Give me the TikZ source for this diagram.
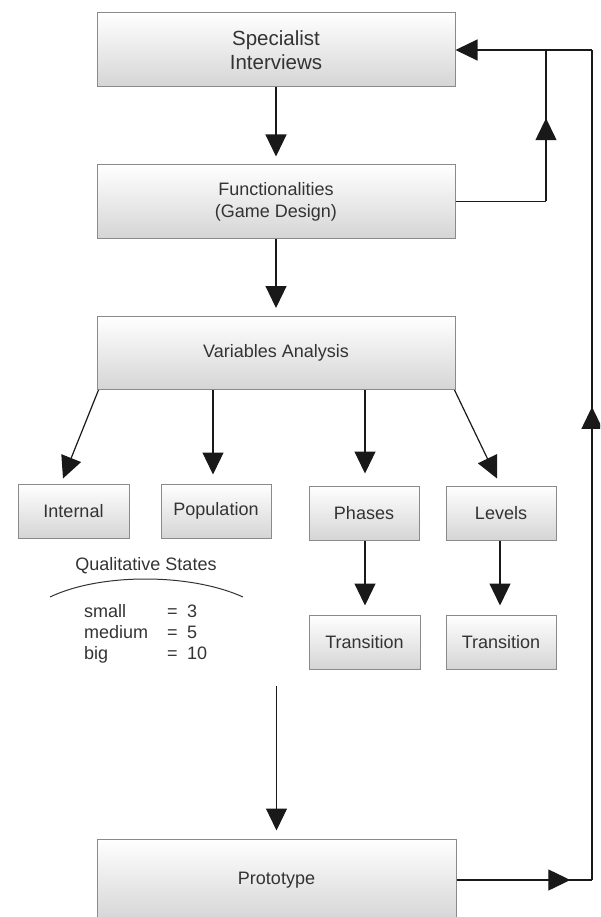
\documentclass[tikz,border=0pt]{standalone}
\usepackage{fontspec}
\setmainfont{Liberation Sans}
\usetikzlibrary{arrows.meta,decorations.markings,calc}
\definecolor{txt}{HTML}{333333}
\definecolor{boxline}{HTML}{8A8A8A}
\begin{document}
\begin{tikzpicture}[x=1pt,y=-1pt,
  box/.style={draw=boxline, line width=1pt, top color=white, bottom color=gray!33,
    inner sep=0pt, text=txt, font=\fontsize{18}{22}\selectfont, align=center},
  bigbox/.style={box, minimum width=358pt, minimum height=73pt},
  smallbox/.style={box, minimum width=110pt, minimum height=54pt},
  conn/.style={line width=1.2pt, draw=black!90},
  arrn/.style={conn, -{Triangle[length=22pt,width=21pt]}},
  midarrow/.style={postaction={decorate}, decoration={markings,
    mark=at position #1 with {\arrow{Triangle[length=22pt,width=21pt]}}}},
  lbl/.style={text=txt, font=\fontsize{18}{21}\selectfont, inner sep=0pt}
]
\useasboundingbox (0,0) rectangle (600,917);
\clip (0,0) rectangle (600,917);

% main boxes
\node[bigbox, minimum height=74pt, font=\fontsize{20.5}{23.5}\selectfont] (spec) at (276,50) {Specialist\\Interviews};
\node[bigbox] (func) at (276,201.5) {Functionalities\\(Game Design)};
\node[bigbox] (var) at (276,353) {Variables Analysis};

% second level
\node[smallbox, minimum width=111pt] (int) at (73.5,511) {Internal};
\node[smallbox] (pop) at (216,511) {Population};
\node[smallbox] (pha) at (364,513) {Phases};
\node[smallbox] (lev) at (501,513) {Levels};
\node[smallbox, minimum width=111pt] (tr1) at (364.5,642) {Transition};
\node[smallbox] (tr2) at (501,642) {Transition};

% prototype
\node[box, minimum width=359pt, minimum height=82pt] (proto) at (276.5,880) {Prototype};

% main flow
\draw[arrn] (spec.south) -- ($(func.north)+(0,-8)$);
\draw[arrn] (func.south) -- ($(var.north)+(0,-8)$);

% branches
\draw[arrn] ($(var.south west)+(2,0)$) -- ($(int.north)+(-10.5,-5)$);
\draw[arrn] ($(var.south)+(-63,0)$) -- ($(pop.north)+(-3,-9)$);
\draw[arrn] ($(var.south)+(89,0)$) -- ($(pha.north)+(1,-12)$);
\draw[arrn] ($(var.south east)+(-1,0)$) -- ($(lev.north)+(-4,-7)$);
\draw[arrn] ($(pha.south)+(1,0)$) -- ($(tr1.north)+(0.5,-9)$);
\draw[arrn] ($(lev.south)+(-1,0)$) -- ($(tr2.north)+(-1,-9)$);

% free arrow to prototype
\coordinate (free) at (276.5,686);
\draw[arrn] (free) -- ($(proto.north)+(0,-8)$);

% feedback loops
\coordinate (jA) at (546,50);
\coordinate (jB) at (546,201.5);
\coordinate (jC) at (592,50);
\coordinate (jD) at (592,880);
\draw[conn] (func.east) -- (jB);
\draw[conn, midarrow=0.55] (jB) -- (jA);
\draw[conn, midarrow=0.84] (proto.east) -- (jD);
\draw[conn, midarrow=0.57] (jD) -- (jC);
\draw[arrn] (jC) -- (spec.east);

% qualitative states
\node[lbl, anchor=base] (qs) at (146,570) {Qualitative States};
\draw[line width=1pt, draw=black!80] (50,597) .. controls (100,573) and (190,573) .. (243,597);
\node[lbl, anchor=base west] (tab) at (84,617) {\begin{tabular}[t]{@{}p{83pt}@{}p{20pt}@{}l@{}}small & = & 3\\ medium & = & 5\\ big & = & 10\end{tabular}};
\end{tikzpicture}
\end{document}
